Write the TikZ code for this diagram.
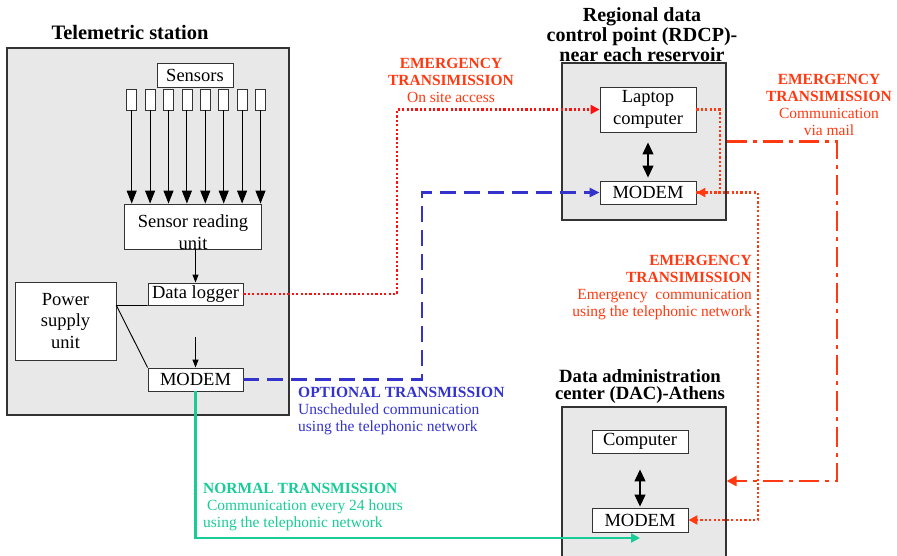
\documentclass[tikz,border=0pt]{standalone}
\usepackage{fontspec}
\setmainfont{Liberation Serif}
\usetikzlibrary{arrows.meta,calc}
\definecolor{boxgray}{HTML}{E8E8E8}
\definecolor{edgegray}{HTML}{333333}
\definecolor{onsitered}{HTML}{FF1010}
\definecolor{emorange}{HTML}{FF3A12}
\definecolor{optblue}{HTML}{3434CC}
\definecolor{normgreen}{HTML}{18CC98}
\begin{document}
\begin{tikzpicture}[x=1pt,y=-1pt,
  station/.style={draw=edgegray, fill=boxgray, line width=1.2pt, inner sep=0pt},
  unitbox/.style={draw=edgegray, fill=white, line width=0.9pt, inner sep=0pt,
     font=\fontsize{18.5}{21.5}\selectfont, align=center},
  unittext/.style={inner sep=0pt, font=\fontsize{18.5}{21.5}\selectfont, align=center},
  sensorbox/.style={draw=edgegray, fill=white, line width=0.8pt, inner sep=0pt,
     minimum width=10pt, minimum height=21pt},
  titletext/.style={inner sep=0pt, font=\bfseries, align=center},
  bigarrow/.style={line width=1pt, -{Triangle[width=10pt,length=13pt]}},
  smallarrow/.style={line width=1pt, -{Triangle[width=6pt,length=8pt]}},
  duoarrow/.style={line width=1.2pt, {Triangle[width=11pt,length=12pt]}-{Triangle[width=11pt,length=12pt]}},
  thinline/.style={line width=0.9pt, draw=black},
  labeltext/.style={inner sep=0pt, font=\fontsize{15.5}{17}\selectfont},
  onsiteline/.style={draw=onsitered, line width=2.4pt, dash pattern=on 2.2pt off 2.2pt, -{Triangle[width=9pt,length=9pt]}},
  emline/.style={draw=emorange, line width=2.4pt, dash pattern=on 2.2pt off 2.2pt, -{Triangle[width=9pt,length=9pt]}},
  optline/.style={draw=optblue, line width=2.6pt, dash pattern=on 16pt off 8pt, -{Triangle[width=9pt,length=10pt]}},
  mailline/.style={draw=emorange, line width=2.8pt, dash pattern=on 20pt off 6pt on 4pt off 6pt, -{Triangle[width=10pt,length=10pt]}},
  normline/.style={draw=normgreen, line width=2.4pt, -{Triangle[width=9pt,length=9pt]}}
]
\clip (0,0) rectangle (897,555);
\fill[white] (0,0) rectangle (897,555);

% ---------- Telemetric station ----------
\node[station, minimum width=282pt, minimum height=367pt] (tel) at (148,231.5) {};
\node[titletext, font=\bfseries\fontsize{20.5}{21}\selectfont] (teltitle) at (130,32) {Telemetric station};

\node[unitbox, minimum width=76pt, minimum height=24pt] (sensors) at (195,75) {Sensors};
\node[unitbox, minimum width=137pt, minimum height=45pt] (sru) at (192.5,226.5) {};
\node[unittext] (srutext) at (193,232) {Sensor reading\\unit};
\foreach \i in {1,...,8} {
  \node[sensorbox] (s\i) at ({131.7+18.4*(\i-1)},99.5) {};
  \draw[bigarrow] (s\i.south) -- (s\i.south |- sru.north);
}
\node[unitbox, minimum width=95pt, minimum height=22pt] (dl) at (195.5,294) {Data logger};
\node[unitbox, minimum width=101pt, minimum height=78pt] (psu) at (65.5,321) {Power\\supply\\unit};
\node[unitbox, minimum width=95pt, minimum height=23pt] (tmodem) at (195.5,379.5) {MODEM};

\draw[smallarrow] (sru.south -| dl.north) -- (dl.north);
\coordinate (mtop) at (195.5,337);
\draw[smallarrow] (mtop) -- (tmodem.north);
\coordinate (pj) at (psu.east |- dl.south);
\draw[thinline] (dl.south west) -- (pj) -- (tmodem.north west);

% ---------- RDCP ----------
\node[station, minimum width=164pt, minimum height=157pt] (rbox) at (644,141.5) {};
\node[titletext, font=\bfseries\fontsize{20}{20}\selectfont, anchor=north] (rtitle) at (642,7) {Regional data\\control point (RDCP)-\\near each reservoir};
\node[unitbox, minimum width=96pt, minimum height=45pt] (laptop) at (648,109.5) {Laptop\\computer};
\node[unitbox, minimum width=96pt, minimum height=23pt] (rmodem) at (648,192.5) {MODEM};
\draw[duoarrow, shorten <=10pt, shorten >=3pt] (laptop.south) -- (rmodem.north);

% ---------- DAC Athens ----------
\node[station, minimum width=164pt, minimum height=200pt] (abox) at (644,507) {};
\node[titletext, font=\bfseries\fontsize{18.7}{17.5}\selectfont, anchor=north] (atitle) at (640,369) {Data administration\\center (DAC)-Athens};
\node[unitbox, minimum width=96pt, minimum height=23pt] (computer) at (640,441.5) {Computer};
\node[unitbox, minimum width=96pt, minimum height=24pt] (amodem) at (640,520) {MODEM};
\draw[duoarrow, shorten <=16pt, shorten >=1pt] (computer.south) -- (amodem.north);

% ---------- connectors ----------
\coordinate (rx) at (397,0);
\draw[onsiteline] (dl.east) -| (rx |- laptop.west) -- (laptop.west);

\coordinate (bx) at (422,0);
\draw[optline] (tmodem.east) -| (bx |- rmodem.west) -- (rmodem.west);

\coordinate (ox) at (720,0);
\draw[emline] (laptop.east) -| (ox |- rmodem.east) -- (rmodem.east);

\coordinate (px) at (758,0);
\draw[emline] (rmodem.east) -| (px |- amodem.east) -- (amodem.east);

\coordinate (dx) at (837,0);
\coordinate (dy) at (0,481);
\draw[mailline] (rbox.east) -| (dx |- dy) -- (abox.east |- dy);

\coordinate (gy) at (0,538);
\draw[normline] (tmodem.south) |- (amodem.south |- gy);

% ---------- labels ----------
\node[labeltext, text=emorange, align=center, anchor=north] (lab1) at (451,58)
  {\textbf{EMERGENCY}\\\textbf{TRANSIMISSION}\\On site access};
\node[labeltext, text=emorange, align=center, anchor=north] (lab2) at (829,74)
  {\textbf{EMERGENCY}\\\textbf{TRANSIMISSION}\\Communication\\via mail};
\node[labeltext, text=emorange, align=right, anchor=north east] (lab3) at (752,255)
  {\textbf{EMERGENCY}\\\textbf{TRANSIMISSION}\\Emergency\ \ communication\\using the telephonic network};
\node[labeltext, text=optblue, align=left, anchor=north west] (lab4) at (298,387)
  {\textbf{OPTIONAL TRANSMISSION}\\Unscheduled communication\\using the telephonic network};
\node[labeltext, text=normgreen, align=left, anchor=north west] (lab5) at (203,483)
  {\textbf{NORMAL TRANSMISSION}\\\ Communication every 24 hours\\using the telephonic network};
\end{tikzpicture}
\end{document}
